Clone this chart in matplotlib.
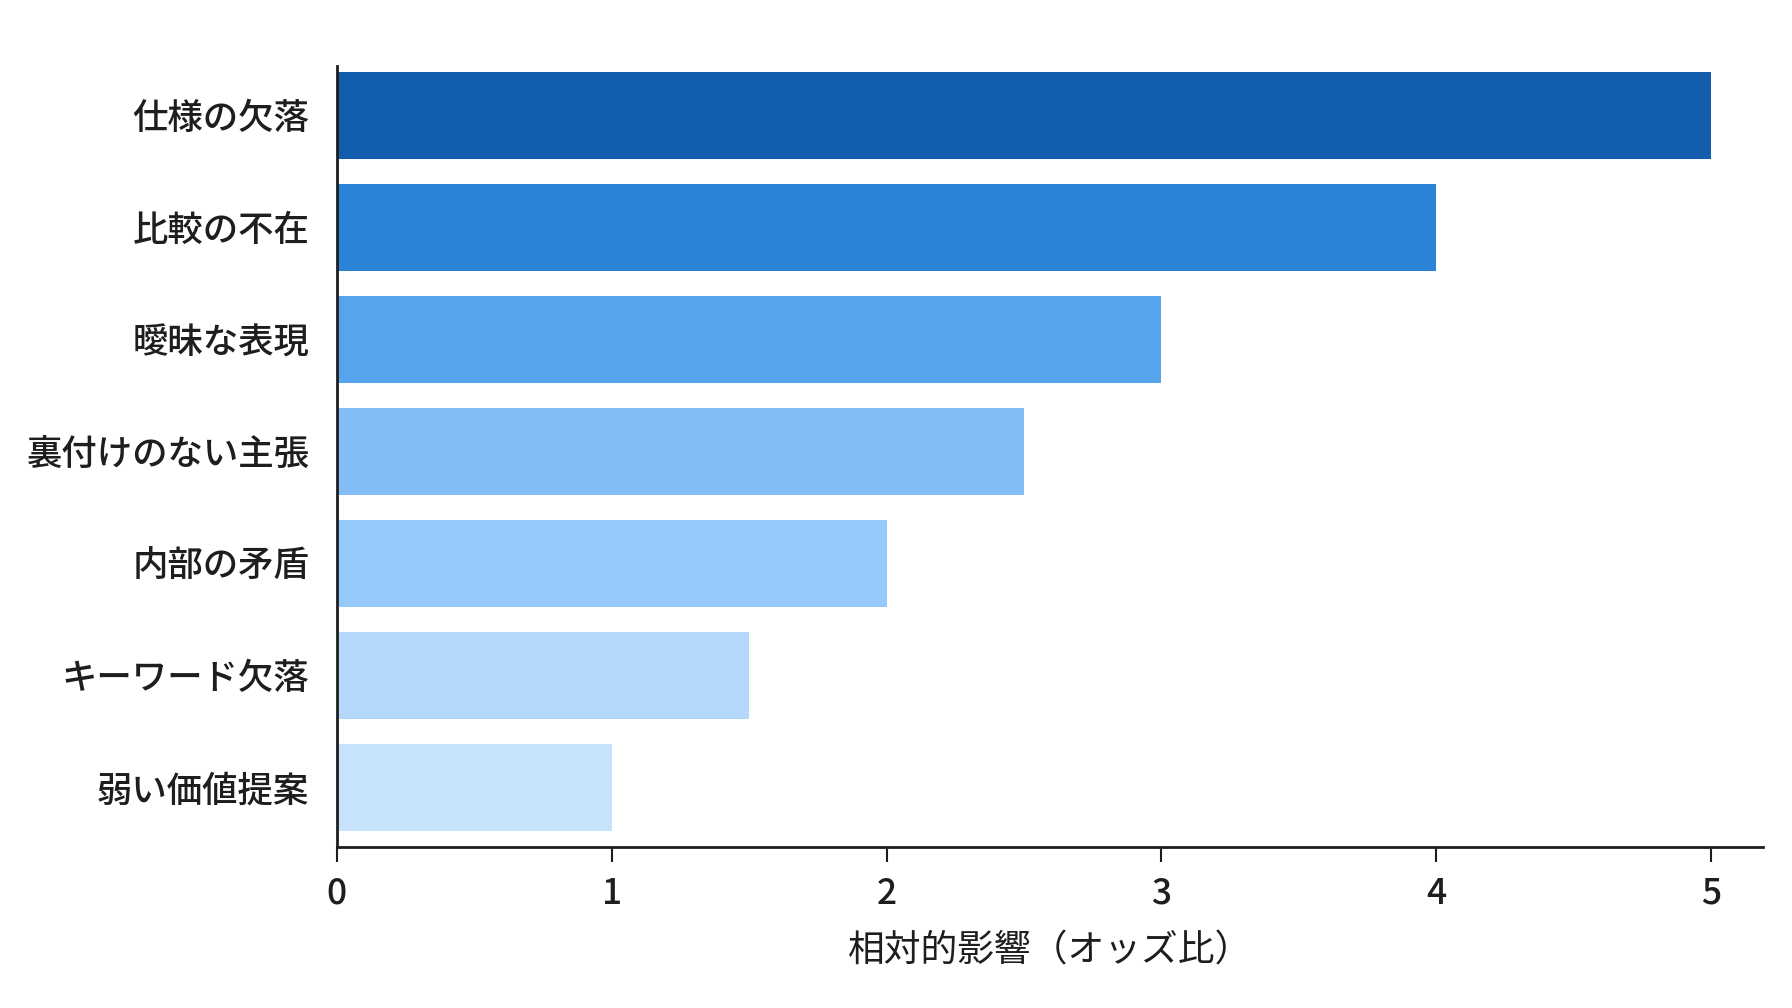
"""Horizontal bar chart of relative impact (odds ratio) per issue type."""

import matplotlib

matplotlib.use("Agg")
import matplotlib.pyplot as plt  # noqa: E402

plt.rcParams["font.family"] = ["Noto Sans CJK JP", "DejaVu Sans"]
plt.rcParams["font.weight"] = "medium"

# data, top to bottom
categories = [
    "仕様の欠落",
    "比較の不在",
    "曖昧な表現",
    "裏付けのない主張",
    "内部の矛盾",
    "キーワード欠落",
    "弱い価値提案",
]
odds_ratios = [5.0, 4.0, 3.0, 2.5, 2.0, 1.5, 1.0]
bar_colors = [
    "#125DAD",
    "#2A83D6",
    "#55A4EC",
    "#82BEF5",
    "#94C9FA",
    "#B3D8FB",
    "#C6E2FC",
]
x_ticks = [0, 1, 2, 3, 4, 5]
x_label = "相対的影響（オッズ比）"

text_color = "#1E1E1E"

fig = plt.figure(figsize=(17.92, 10.08), dpi=100)
ax = fig.add_axes([0.188, 0.16, 0.796, 0.7745])

positions = list(range(len(categories)))
ax.barh(positions, odds_ratios, height=0.78, color=bar_colors, edgecolor="none")

ax.set_xlim(0, 5.19)
ax.set_ylim(len(categories) - 1 + 0.53, -0.44)

ax.set_yticks(positions)
ax.set_yticklabels(categories, fontsize=25.5, color=text_color)
ax.set_xticks(x_ticks)
ax.set_xticklabels([str(t) for t in x_ticks], fontsize=25.5, color=text_color)
ax.set_xlabel(x_label, fontsize=26.5, color=text_color, labelpad=14)

ax.tick_params(axis="y", length=0, pad=20)
ax.tick_params(axis="x", length=11, width=1.5, pad=10, color=text_color)

for side in ("top", "right"):
    ax.spines[side].set_visible(False)
for side in ("left", "bottom"):
    ax.spines[side].set_linewidth(2)
    ax.spines[side].set_color(text_color)

fig.savefig("out.png", dpi=100, facecolor="white")
plt.close(fig)
